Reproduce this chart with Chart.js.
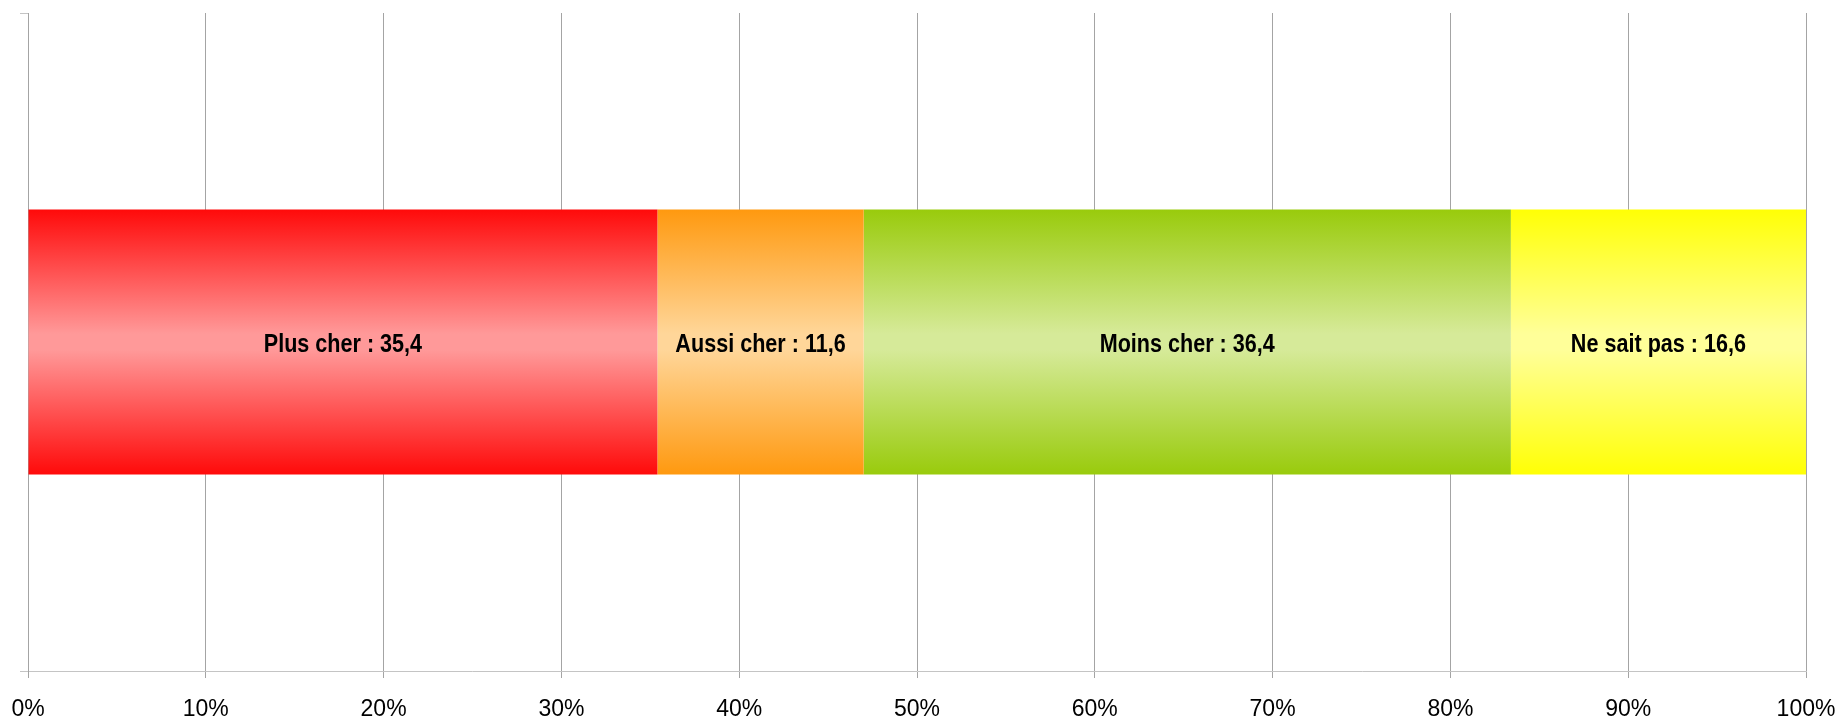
<!DOCTYPE html>
<html><head><meta charset="utf-8">
<script src="https://cdn.jsdelivr.net/npm/chart.js@4/dist/chart.umd.min.js"></script>
<style>html,body{margin:0;padding:0;background:#fff}#wrap{width:1836px;height:719px}</style>
</head><body><div id="wrap"><canvas id="c" width="1836" height="719"></canvas></div>
<script>
const categories = [''];
const seriesNames = ['Plus cher', 'Aussi cher', 'Moins cher', 'Ne sait pas'];
const seriesValues = [35.4, 11.6, 36.4, 16.6];
const edgeColors = ['#ff0a0a', '#ff990f', '#99cb0c', '#ffff05'];
const centerColors = ['#ff9999', '#ffd699', '#d6ea99', '#ffff99'];
const tickValues = [0,10,20,30,40,50,60,70,80,90,100];
const BAR_FRAC = 0.403;
const FONT = '"Liberation Sans", Arial, sans-serif';

function makeBg(i){
  return function(ctx){
    const chart = ctx.chart; const ca = chart.chartArea;
    if(!ca || !chart.scales.y) return edgeColors[i];
    const yc = chart.scales.y.getPixelForValue(0);
    const h = (ca.bottom - ca.top) * BAR_FRAC;
    const g = chart.ctx.createLinearGradient(0, yc - h/2, 0, yc + h/2);
    g.addColorStop(0, edgeColors[i]);
    g.addColorStop(0.47, centerColors[i]);
    g.addColorStop(0.53, centerColors[i]);
    g.addColorStop(1, edgeColors[i]);
    return g;
  };
}

const labelPlugin = {
  id: 'barLabels',
  afterDatasetsDraw(chart){
    const ctx = chart.ctx;
    const sx = 0.83;
    chart.data.datasets.forEach((ds, i) => {
      const meta = chart.getDatasetMeta(i);
      meta.data.forEach((el, j) => {
        const cx = (el.x + el.base) / 2;
        const v = ds.data[j].toFixed(1).replace('.', ',');
        ctx.save();
        ctx.font = 'bold 26px ' + FONT;
        ctx.fillStyle = '#000';
        ctx.textAlign = 'center';
        ctx.textBaseline = 'middle';
        ctx.translate(cx, el.y + 3);
        ctx.scale(sx, 1);
        ctx.fillText(ds.label + ' : ' + v, 0, 0);
        ctx.restore();
      });
    });
  }
};

new Chart(document.getElementById('c'), {
  type: 'bar',
  data: {
    labels: categories,
    datasets: seriesNames.map((n, i) => ({
      label: n,
      data: [seriesValues[i]],
      backgroundColor: makeBg(i),
      borderWidth: 0,
      categoryPercentage: 1,
      barPercentage: BAR_FRAC
    }))
  },
  options: {
    indexAxis: 'y',
    responsive: false,
    animation: false,
    layout: { padding: { top: 13, right: 30, left: 0, bottom: 0 } },
    plugins: { legend: { display: false }, tooltip: { enabled: false } },
    scales: {
      x: {
        stacked: true, min: 0, max: 100,
        afterBuildTicks(s){ s.ticks = tickValues.map(v => ({ value: v })); },
        afterFit(s){ s.height = 48; s.paddingLeft = 0; s.paddingRight = 0; },
        ticks: { callback: v => v + '%', color: '#000', padding: 18, maxRotation: 0,
                 font: { family: FONT, size: 23 } },
        grid: { color: '#a4a4a4', lineWidth: 1, tickLength: 7 },
        border: { color: '#c4c4c4', width: 1 }
      },
      y: {
        stacked: true,
        afterFit(s){ s.width = 28; s.paddingTop = 0; s.paddingBottom = 0; },
        ticks: { display: true, callback: () => '', padding: 0 },
        grid: { offset: true, drawOnChartArea: false, tickLength: 8, color: '#c4c4c4' },
        border: { color: '#a4a4a4', width: 1 }
      }
    }
  },
  plugins: [labelPlugin]
});
</script>
</body></html>
